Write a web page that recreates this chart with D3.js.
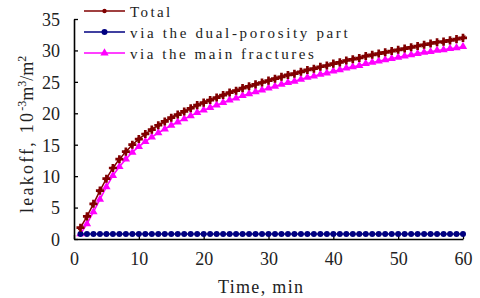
<!DOCTYPE html>
<html>
<head>
    <meta charset="utf-8">
    <script src="https://d3js.org/d3.v7.min.js"></script>
    <style type="text/css">
        body { margin: 0; background: #fff; }
        text { font-family: "Liberation Serif", serif; fill: #222; }
    </style>
</head>
<body>
    <script type="text/javascript">
        // time, min
        var times = d3.range(1, 61);
        // leakoff, 10^-3 m3/m2
        var total = [1.8, 3.6, 5.6, 7.7, 9.6, 11.3, 12.7, 13.9, 15.0, 15.9,
                     16.7, 17.4, 18.1, 18.7, 19.3, 19.8, 20.3, 20.8, 21.3, 21.7,
                     22.1, 22.5, 22.9, 23.3, 23.6, 24.0, 24.3, 24.6, 24.9, 25.2,
                     25.5, 25.8, 26.1, 26.3, 26.6, 26.9, 27.1, 27.4, 27.6, 27.9,
                     28.1, 28.4, 28.6, 28.8, 29.1, 29.3, 29.5, 29.7, 29.9, 30.1,
                     30.3, 30.5, 30.7, 30.9, 31.1, 31.3, 31.4, 31.6, 31.8, 32.0];
        var dualPorosity = [0.8, 0.8, 0.8, 0.8, 0.8, 0.8, 0.8, 0.8, 0.8, 0.8,
                            0.8, 0.8, 0.8, 0.8, 0.8, 0.8, 0.8, 0.8, 0.8, 0.8,
                            0.8, 0.8, 0.8, 0.8, 0.8, 0.8, 0.8, 0.8, 0.8, 0.8,
                            0.8, 0.8, 0.8, 0.8, 0.8, 0.8, 0.8, 0.8, 0.8, 0.8,
                            0.8, 0.8, 0.8, 0.8, 0.8, 0.8, 0.8, 0.8, 0.8, 0.8,
                            0.8, 0.8, 0.8, 0.8, 0.8, 0.8, 0.8, 0.8, 0.8, 0.8];
        var mainFractures = [0.8, 2.4, 4.3, 6.3, 8.3, 10.1, 11.5, 12.7, 13.8, 14.7,
                             15.5, 16.2, 16.9, 17.5, 18.1, 18.6, 19.1, 19.6, 20.1, 20.5,
                             20.9, 21.3, 21.7, 22.1, 22.4, 22.8, 23.1, 23.4, 23.7, 24.0,
                             24.3, 24.6, 24.9, 25.1, 25.4, 25.7, 25.9, 26.2, 26.4, 26.7,
                             26.9, 27.2, 27.4, 27.6, 27.9, 28.1, 28.3, 28.5, 28.7, 28.9,
                             29.1, 29.3, 29.5, 29.7, 29.8, 30.0, 30.1, 30.3, 30.4, 30.6];
        var xTicks = [0, 10, 20, 30, 40, 50, 60];
        var yTicks = [0, 5, 10, 15, 20, 25, 30, 35];
        var seriesNames = ["Total", "via the dual-porosity part", "via the main fractures"];

        var W = 480, H = 298;
        var svg = d3.select("body").append("svg")
            .attr("width", W).attr("height", H);

        var x = d3.scaleLinear().domain([0, 60]).range([74, 463]);
        var y = d3.scaleLinear().domain([0, 35]).range([239, 19]);

        //// axes (ticks point inward)
        var xAxis = svg.append("g")
            .attr("transform", "translate(0," + y(0) + ")")
            .call(d3.axisBottom(x).tickValues(xTicks).tickSizeInner(-4).tickSizeOuter(0).tickPadding(17));
        var yAxis = svg.append("g")
            .attr("transform", "translate(" + x(0) + ",0)")
            .call(d3.axisLeft(y).tickValues(yTicks).tickSizeInner(-4).tickSizeOuter(0).tickPadding(14));

        [xAxis, yAxis].forEach(function(a) {
            a.select(".domain").attr("stroke", "#000").attr("stroke-width", 1.6);
            a.selectAll(".tick line").attr("stroke", "#000").attr("stroke-width", 1.3);
            a.selectAll(".tick text")
                .style("font-family", "'Liberation Serif', serif")
                .style("font-size", "18px")
                .attr("fill", "#222");
        });
        yAxis.selectAll(".tick text").attr("dy", "0.35em");
        xAxis.selectAll(".tick text").attr("dy", "0.5em");

        //// series
        var series = [
            { name: seriesNames[0], values: total, color: "#800000", marker: "star" },
            { name: seriesNames[1], values: dualPorosity, color: "#000080", marker: "circle" },
            { name: seriesNames[2], values: mainFractures, color: "#ff00ff", marker: "triangle" }
        ];

        var line = d3.line()
            .x(function(d) { return x(d[0]); })
            .y(function(d) { return y(d[1]); });

        function drawMarker(g, cx, cy, s) {
            if (s.marker === "circle") {
                g.append("circle").attr("cx", cx).attr("cy", cy).attr("r", 3)
                    .attr("fill", s.color);
            } else if (s.marker === "triangle") {
                g.append("path")
                    .attr("d", d3.symbol().type(d3.symbolTriangle).size(30)())
                    .attr("transform", "translate(" + cx + "," + cy + ")")
                    .attr("fill", s.color);
            } else {
                g.append("path")
                    .attr("d", d3.symbol().type(d3.symbolCross).size(36)())
                    .attr("transform", "translate(" + cx + "," + cy + ")")
                    .attr("fill", s.color);
                g.append("path")
                    .attr("d", d3.symbol().type(d3.symbolDiamond).size(16)())
                    .attr("transform", "translate(" + cx + "," + cy + ") rotate(45)")
                    .attr("fill", s.color);
            }
        }

        // draw bottom series first so Total sits on top
        [series[2], series[1], series[0]].forEach(function(s) {
            var pts = times.map(function(t, i) { return [t, s.values[i]]; });
            var g = svg.append("g");
            g.append("path").datum(pts)
                .attr("d", line)
                .attr("fill", "none")
                .attr("stroke", s.color)
                .attr("stroke-width", 1.5);
            pts.forEach(function(p) { drawMarker(g, x(p[0]), y(p[1]), s); });
        });

        //// legend (monospace-like spacing: ~8.45px per character)
        var legend = svg.append("g");
        series.forEach(function(s, i) {
            var ly = 11 + i * 21;
            var lg = legend.append("g");
            lg.append("line")
                .attr("x1", 84).attr("x2", 125).attr("y1", ly).attr("y2", ly)
                .attr("stroke", s.color).attr("stroke-width", 1.5);
            if (s.marker === "star") {
                lg.append("circle").attr("cx", 104.5).attr("cy", ly).attr("r", 2.2).attr("fill", s.color);
            } else {
                drawMarker(lg, 104.5, ly, s);
            }
            lg.append("text")
                .attr("x", 130).attr("y", ly + 6)
                .attr("textLength", s.name.length * 8.45 - 2)
                .attr("lengthAdjust", "spacing")
                .style("font-size", "15px")
                .text(s.name);
        });

        //// axis titles
        svg.append("text")
            .attr("x", 218).attr("y", 293)
            .attr("textLength", 85)
            .attr("lengthAdjust", "spacing")
            .style("font-size", "18px")
            .text("Time, min");

        var yt = svg.append("text")
            .attr("transform", "translate(33,213) rotate(-90)")
            .attr("text-anchor", "start")
            .style("font-size", "18px");
        yt.append("tspan").attr("textLength", 100).attr("lengthAdjust", "spacing").text("leakoff, 10");
        yt.append("tspan").attr("dy", -7).style("font-size", "12px").text("-3");
        yt.append("tspan").attr("dy", 7).text("m");
        yt.append("tspan").attr("dy", -7).style("font-size", "12px").text("3");
        yt.append("tspan").attr("dy", 7).text("/m");
        yt.append("tspan").attr("dy", -7).style("font-size", "12px").text("2");
    </script>
</body>
</html>
